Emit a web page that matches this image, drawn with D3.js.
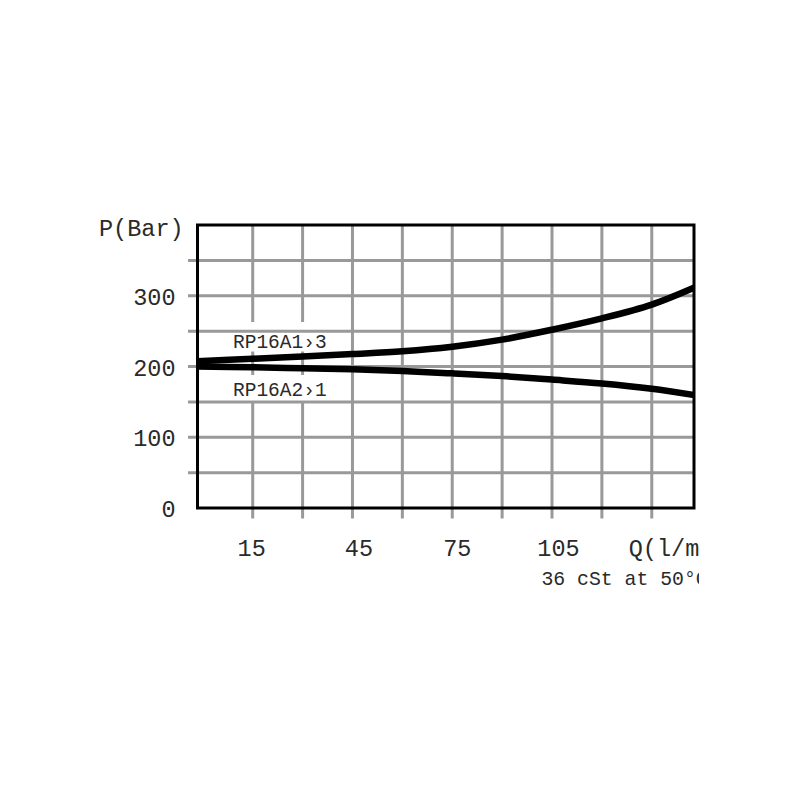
<!DOCTYPE html>
<html>
<head>
<meta charset="utf-8">
<script src="https://cdn.jsdelivr.net/npm/d3@7"></script>
<style>
  html, body { margin: 0; padding: 0; background: #fff; }
  svg { display: block; }
  text { font-family: "Liberation Mono", "DejaVu Sans Mono", monospace; fill: #2a2a2a; }
</style>
</head>
<body>
<script>
// ---- data ----
const flowQ = [-2, 15, 30, 45, 60, 75, 90, 105, 120, 135, 148];
const pressureA1to3 = [207.5, 211, 214, 217.5, 221.5, 228, 238, 252, 268, 287.5, 312];
const pressureA2to1 = [200, 199, 197.5, 196, 193.6, 190.3, 186.5, 181.5, 176, 168.5, 159.5];
const seriesNames = ["RP16A1\u203A3", "RP16A2\u203A1"];
const xGridValues = [15, 30, 45, 60, 75, 90, 105, 120, 135];
const yGridValues = [50, 100, 150, 200, 250, 300, 350];
const xTickValues = [15, 45, 75, 105];
const xTickNudge = [-1, 6.5, 5, 6.5];
const yTickValues = [0, 100, 200, 300];
const yTitle = "P(Bar)";
const xTitle = "Q(l/min)";
const noteText = "36 cSt at 50\u00B0C";

// ---- layout ----
const W = 800, H = 800;
const x = d3.scaleLinear().domain([-1.6, 147.7]).range([197.5, 694]);
const y = d3.scaleLinear().domain([0, 400]).range([508, 225]);
const [x0, x1] = x.range();
const [yb, yt] = y.range();

const svg = d3.select("body").append("svg").attr("width", W).attr("height", H);
const defs = svg.append("defs");
defs.append("clipPath").attr("id", "pageclip")
  .append("rect").attr("x", 0).attr("y", 0).attr("width", 699).attr("height", H);
defs.append("clipPath").attr("id", "plotclip")
  .append("rect").attr("x", x0).attr("y", yt).attr("width", x1 - x0).attr("height", yb - yt);

const g = svg.append("g").attr("clip-path", "url(#pageclip)");

// vertical grid lines (extend below frame)
g.append("g").selectAll("line").data(xGridValues).join("line")
  .attr("x1", d => x(d)).attr("x2", d => x(d))
  .attr("y1", yt).attr("y2", yb + 10.5)
  .attr("stroke", "#999").attr("stroke-width", 3);

// white label backgrounds hiding vertical grid
const labelBoxes = [
  {y1: 322, y2: 351.5},
  {y1: 375, y2: 403}
];
g.append("g").selectAll("rect").data(labelBoxes).join("rect")
  .attr("x", 228).attr("width", 104)
  .attr("y", d => d.y1).attr("height", d => d.y2 - d.y1)
  .attr("fill", "#fff");

// horizontal grid lines (extend left of frame)
g.append("g").selectAll("line").data(yGridValues).join("line")
  .attr("x1", x0 - 9.5).attr("x2", x1)
  .attr("y1", d => y(d)).attr("y2", d => y(d))
  .attr("stroke", "#999").attr("stroke-width", 3);

// curves
const line = d3.line().x(d => x(d[0])).y(d => y(d[1])).curve(d3.curveCatmullRom.alpha(0.5));
const series = [pressureA1to3, pressureA2to1];
g.append("g").attr("clip-path", "url(#plotclip)")
  .selectAll("path").data(series).join("path")
  .attr("d", s => line(flowQ.map((q, i) => [q, s[i]])))
  .attr("fill", "none").attr("stroke", "#000").attr("stroke-width", 6.5);

// frame
g.append("rect")
  .attr("x", x0).attr("y", yt).attr("width", x1 - x0).attr("height", yb - yt)
  .attr("fill", "none").attr("stroke", "#000").attr("stroke-width", 3);

// series labels
const labelBaselines = [348, 396];
g.append("g").selectAll("text").data(seriesNames).join("text")
  .attr("x", 233).attr("y", (d, i) => labelBaselines[i])
  .attr("font-size", 19.5)
  .text(d => d);

// y tick labels
g.append("g").selectAll("text").data(yTickValues).join("text")
  .attr("x", x0 - 22).attr("y", d => y(d)).attr("dy", "0.39em")
  .attr("text-anchor", "end").attr("font-size", 23.5)
  .text(d => d);

// y title
g.append("text").attr("x", 99).attr("y", 236).attr("font-size", 23.5).text(yTitle);

// x tick labels
g.append("g").selectAll("text").data(xTickValues).join("text")
  .attr("x", (d, i) => x(d) + xTickNudge[i]).attr("y", 556)
  .attr("text-anchor", "middle").attr("font-size", 23.5)
  .text(d => d);

// x title (clipped by page)
g.append("text").attr("x", x(135) - 23).attr("y", 556).attr("font-size", 23.5).text(xTitle);

// note
g.append("text").attr("x", 541.5).attr("y", 585).attr("font-size", 19.8).text(noteText);
</script>
</body>
</html>
